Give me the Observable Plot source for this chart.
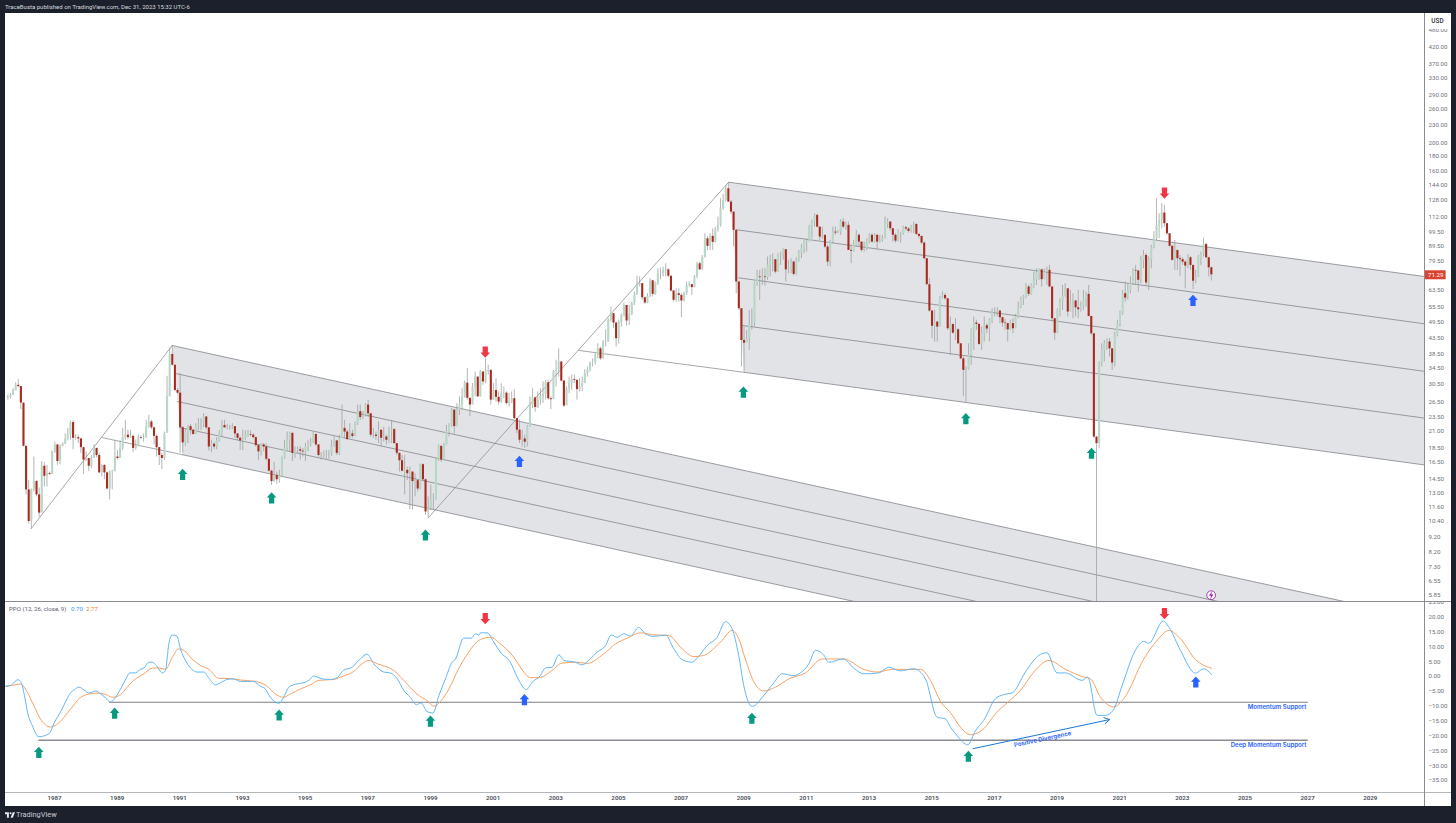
<!DOCTYPE html>
<html><head><meta charset="utf-8">
<script src="https://cdn.jsdelivr.net/npm/d3@7"></script>
<script src="https://cdn.jsdelivr.net/npm/@observablehq/plot@0.6"></script>
<style>
html,body{margin:0;padding:0;background:#1c202d;width:1456px;height:823px;overflow:hidden;font-family:Roboto,sans-serif}
#page{position:relative;width:1456px;height:823px}
.abs{position:absolute}
svg{display:block}
</style></head><body><div id="page"></div>
<script>
// Monthly candles, first one mid 1985
const firstMonth = 1985.51;
const firstOpen = 27.3;
const closes = [
27.5,27.8,28.8,30.1,29.8,26.2,18.7,13.3,10.4,13.3,
14.2,12.8,11.1,16.0,14.8,15.1,15.0,17.9,18.9,16.6,
18.7,19.0,19.9,20.5,22.5,19.9,20.0,19.8,18.5,16.8,
17.0,16.0,17.1,18.4,17.4,15.2,16.1,15.2,13.4,15.3,
15.4,17.2,17.0,18.4,20.0,20.4,20.0,20.2,18.4,18.7,
20.0,19.9,20.0,21.8,22.6,21.6,20.2,18.5,17.4,17.0,
20.7,27.5,38.3,35.2,28.9,28.3,21.6,19.2,20.9,21.8,
21.2,20.5,22.0,22.3,22.4,23.5,21.6,18.6,19.0,18.6,
19.5,20.6,22.0,21.6,21.6,21.6,21.8,20.6,19.9,19.5,
19.8,20.4,20.5,20.4,20.0,18.8,17.9,18.9,18.6,16.9,
15.4,14.2,14.9,14.4,14.8,17.1,18.4,19.6,20.7,17.7,
18.1,18.2,18.0,17.9,18.7,19.0,19.2,20.5,18.9,17.4,
17.4,17.7,17.7,17.7,18.6,19.5,17.7,19.9,21.5,20.9,
19.7,20.6,20.2,22.3,24.5,23.4,23.8,25.8,24.1,20.4,
20.4,20.2,21.2,19.9,20.1,19.6,21.2,21.3,19.1,17.7,
16.7,15.4,15.5,15.1,15.3,14.2,14.3,13.4,16.2,14.4,
11.2,11.5,12.3,12.3,16.8,18.7,16.8,18.9,20.9,22.0,
24.8,21.8,24.8,25.8,27.5,30.6,27.2,25.8,29.7,32.1,
27.5,33.4,30.9,33.4,33.8,26.8,28.9,27.4,26.4,28.2,
28.3,26.1,26.4,27.1,23.2,21.2,19.6,19.8,19.3,21.8,
25.8,27.3,25.3,26.8,27.5,28.0,30.7,27.1,26.9,33.4,
33.8,36.1,31.1,25.6,29.3,30.5,31.5,31.3,29.1,29.7,
30.5,33.0,33.8,35.8,35.9,38.0,40.0,37.0,42.2,42.2,
50.0,52.6,48.9,43.3,49.3,51.9,56.1,49.7,52.3,56.9,
61.2,65.6,66.5,59.6,57.2,60.2,68.0,61.2,66.5,71.9,
71.9,73.8,74.1,70.5,62.8,58.4,61.5,60.7,58.1,61.5,
65.6,66.0,64.5,70.1,77.7,74.1,81.4,94.4,89.0,96.2,
91.8,101.3,104.8,119.4,127.3,139.5,125.7,116.3,100.8,67.4,
54.7,42.7,41.8,43.3,48.7,48.7,66.5,70.1,69.7,70.1,
69.7,76.7,79.8,80.2,72.8,82.9,84.0,86.7,74.1,74.7,
78.7,71.5,79.8,84.4,88.1,92.0,92.7,103.4,107.6,113.3,
103.4,95.7,97.0,88.5,78.7,92.0,99.5,98.7,99.5,107.6,
103.4,104.8,86.2,85.6,89.7,97.0,92.0,86.2,87.3,92.0,
97.0,92.0,97.0,92.0,93.2,94.4,106.2,107.6,102.1,97.0,
92.7,98.2,98.2,102.9,101.9,100.0,103.4,105.6,97.7,96.2,
91.3,80.8,66.0,53.7,47.7,49.3,47.4,59.9,60.7,59.1,
46.8,48.4,45.2,46.4,41.6,37.0,33.8,34.0,38.0,46.4,
48.9,48.4,41.4,45.0,47.9,46.7,50.0,53.3,53.3,53.7,
51.0,48.9,48.7,46.4,48.7,46.8,51.3,55.1,59.1,59.9,
64.8,61.2,65.6,68.3,71.9,74.1,68.6,72.8,73.8,64.8,
50.6,45.2,54.0,57.6,60.2,63.9,53.3,57.6,58.1,55.1,
54.3,55.4,58.7,61.2,51.5,45.0,20.1,19.1,35.6,39.5,
41.6,42.2,40.0,35.8,44.4,48.4,52.6,61.5,59.4,63.1,
66.5,73.8,73.4,68.3,79.8,82.9,66.9,80.2,88.1,94.4,
104.8,109.0,115.4,106.2,98.2,89.0,79.8,86.2,80.8,80.2,
78.7,76.3,81.4,76.7,67.8,70.1,81.4,83.6,90.3,81.4,
75.3,71.29];
const highs = [
27.8,28.2,29.3,30.7,31.5,29.5,26.1,18.7,14.3,13.4,
17.2,14.3,13.5,16.6,16.5,16.1,15.3,18.0,19.3,18.9,
18.9,19.2,20.6,21.5,22.8,22.8,20.5,20.4,19.9,18.5,
17.9,16.9,17.4,18.9,17.7,17.7,16.2,16.2,15.3,15.4,
15.5,19.6,18.1,19.5,21.5,22.9,21.2,21.2,20.4,19.6,
20.4,20.3,20.6,22.9,23.8,22.9,21.7,20.4,18.5,17.7,
20.9,32.3,40.2,41.1,35.2,29.3,33.0,21.8,21.3,22.0,
22.2,21.3,22.3,23.2,23.2,24.1,23.6,21.5,19.6,19.3,
20.0,21.1,22.9,22.9,22.2,22.0,22.3,21.8,20.6,20.1,
21.2,21.1,21.2,21.1,20.6,20.1,19.0,19.1,19.1,19.0,
16.9,15.5,16.5,15.3,15.5,17.2,19.6,20.9,20.9,20.7,
18.6,18.6,18.6,18.4,19.1,19.6,19.9,20.9,20.6,18.9,
17.8,18.0,18.1,18.1,19.6,20.1,19.6,20.4,25.8,22.9,
21.2,22.3,21.2,22.6,25.8,25.8,24.5,26.1,26.8,24.1,
21.5,20.9,22.6,21.2,21.7,20.4,21.7,22.9,21.5,18.9,
17.7,17.4,17.4,15.9,15.9,15.1,15.1,14.2,16.3,16.3,
14.5,12.6,13.8,12.9,17.0,18.9,18.7,19.1,22.0,22.3,
25.1,24.9,26.1,27.5,29.3,31.1,34.3,27.2,30.5,33.4,
30.9,33.8,33.0,37.0,35.2,34.0,30.5,31.7,28.6,30.5,
29.7,28.6,28.2,28.6,29.1,23.2,22.9,21.2,20.4,22.0,
27.5,29.3,27.4,28.6,29.3,30.9,31.3,31.3,27.5,33.8,
36.6,40.0,36.1,31.3,29.7,32.1,32.6,32.6,31.3,31.7,
32.1,34.0,34.7,36.1,37.0,38.5,41.6,40.6,42.7,46.4,
50.6,55.4,52.6,49.3,50.0,52.6,57.2,55.4,56.1,57.6,
62.3,70.5,70.1,66.5,59.9,61.5,69.2,68.3,67.4,74.7,
75.3,75.7,77.7,74.7,70.5,63.1,63.9,63.9,61.5,62.3,
67.4,67.4,66.2,71.0,78.7,78.7,82.9,98.2,96.2,98.2,
102.1,103.4,111.8,129.0,133.4,143.1,145.8,127.3,116.3,101.3,
67.4,54.7,47.4,46.2,54.0,54.7,67.4,73.8,73.8,74.7,
74.7,81.9,82.9,84.0,80.2,84.0,85.1,87.3,86.7,79.8,
80.8,79.4,81.4,86.2,90.3,93.2,94.4,104.8,109.0,114.8,
114.2,103.4,103.4,97.0,89.7,93.2,103.4,103.4,100.8,109.5,
110.4,107.6,107.6,89.7,93.2,100.8,98.2,92.0,92.0,94.4,
98.2,98.2,98.2,97.7,97.0,97.0,111.8,110.4,107.6,102.1,
98.2,101.3,99.5,104.1,104.1,102.9,104.8,107.6,106.2,98.2,
96.2,92.0,80.8,69.2,54.0,54.0,49.3,60.2,62.3,61.5,
59.1,51.3,48.4,50.6,46.8,41.6,37.5,34.7,41.6,46.8,
51.3,50.0,48.7,47.4,51.3,48.7,50.6,54.7,55.1,55.1,
54.0,51.3,50.3,48.9,50.0,50.6,52.3,57.6,59.9,60.7,
66.5,65.6,66.5,72.8,74.7,74.7,74.1,74.7,75.7,76.7,
64.8,50.6,54.7,59.1,65.6,66.5,63.9,63.1,61.5,58.4,
63.1,57.6,63.1,62.3,65.6,51.3,44.4,20.1,36.1,41.6,
42.7,43.3,43.3,40.0,45.6,50.0,53.7,63.1,67.4,66.5,
70.1,74.7,76.7,73.8,82.3,86.2,84.0,81.9,89.7,99.8,
129.0,114.8,124.1,122.5,106.2,98.2,89.7,93.2,86.2,82.9,
81.4,79.4,83.6,82.3,76.7,73.8,82.9,85.1,94.9,91.3,
81.4,75.7];
const lows = [
26.8,27.1,27.8,28.9,29.5,24.9,18.6,12.8,10.2,9.8,
13.1,12.6,10.7,11.2,13.6,13.6,14.9,15.0,17.7,16.1,
16.2,18.6,19.0,19.5,19.6,18.2,19.6,19.1,17.7,15.0,
16.6,15.4,15.7,17.0,17.1,15.1,14.7,14.4,13.3,12.3,
13.3,15.3,16.8,17.0,18.1,19.6,19.7,19.9,17.8,18.1,
18.6,19.7,19.3,19.9,21.5,21.3,18.9,17.2,16.1,15.6,
16.7,20.7,28.2,34.9,28.6,28.1,17.7,17.7,18.7,19.1,
20.4,20.4,20.6,21.1,21.2,21.6,21.3,18.0,17.8,18.2,
18.2,19.3,20.1,21.5,21.3,21.2,21.3,19.9,19.6,18.1,
18.1,19.6,20.1,20.1,19.9,18.6,16.7,17.3,17.9,16.7,
15.3,13.8,14.1,13.9,14.0,14.7,16.9,18.1,17.9,16.6,
17.0,17.7,16.8,17.2,16.6,17.9,18.6,19.1,18.7,17.2,
16.8,17.0,16.9,16.9,17.3,18.6,17.4,17.4,19.9,19.9,
19.6,19.7,19.9,20.1,22.0,22.9,23.0,23.5,23.4,20.1,
19.9,19.6,19.1,18.6,19.3,18.9,19.1,19.1,19.0,17.4,
15.3,15.3,12.8,14.3,11.4,11.4,12.6,13.1,13.3,14.2,
10.9,10.7,11.3,11.4,12.3,16.6,16.5,16.7,18.9,20.1,
21.7,20.6,21.8,23.8,24.8,27.2,26.8,23.6,26.1,27.5,
27.4,27.5,30.1,30.5,32.6,25.8,26.8,26.4,25.8,26.1,
27.1,25.8,25.4,26.1,23.0,20.6,19.1,18.6,18.4,18.6,
21.7,25.1,24.4,25.1,25.8,26.1,26.8,26.8,24.9,27.5,
29.7,32.1,30.9,25.3,25.8,28.2,28.9,30.5,26.8,28.6,
28.6,30.5,32.1,33.4,34.7,35.2,37.0,36.6,37.0,40.6,
42.2,49.3,46.8,40.6,41.6,47.4,51.3,47.7,48.0,51.9,
56.1,60.7,64.8,58.4,56.6,56.9,59.6,59.9,60.7,65.6,
68.6,70.1,70.1,69.7,62.3,57.6,57.6,57.6,51.0,57.6,
60.7,64.8,60.7,64.5,69.2,73.8,73.8,81.9,86.2,86.2,
86.2,91.3,99.5,103.4,117.8,125.7,125.4,114.2,88.5,61.5,
54.0,34.7,33.4,42.7,39.5,46.2,47.4,65.2,58.4,65.6,
65.2,68.3,70.1,72.8,71.9,72.8,76.7,79.8,67.4,71.9,
71.9,70.5,71.0,78.7,80.8,84.0,85.1,92.0,94.4,103.4,
102.9,93.2,94.4,87.3,76.1,75.7,90.8,97.0,98.2,97.0,
102.1,100.8,86.2,77.7,85.1,88.5,88.5,85.1,85.1,86.2,
90.8,91.3,91.3,86.7,91.3,92.0,94.4,102.1,100.2,92.0,
91.3,92.0,91.3,97.0,100.2,98.7,98.7,98.2,97.0,94.4,
90.3,80.2,65.6,53.3,43.3,42.2,42.2,47.4,59.1,58.4,
46.2,38.0,44.8,42.7,41.4,36.8,27.5,26.3,33.8,35.2,
39.5,46.2,41.1,39.5,42.2,45.0,42.2,48.7,51.3,51.3,
48.7,47.4,46.2,42.2,46.2,45.0,46.8,50.6,54.7,56.1,
59.1,60.2,60.7,63.9,65.6,68.3,64.8,69.2,65.6,64.8,
50.0,42.7,45.0,51.3,54.0,59.9,51.3,53.3,50.6,51.3,
50.6,53.3,54.0,55.4,51.3,44.4,19.8,5.0,18.4,34.7,
36.1,39.5,37.5,33.8,34.7,43.9,47.4,51.9,57.6,58.4,
61.5,65.6,65.6,62.3,66.5,74.7,65.6,63.1,74.7,87.3,
93.2,94.4,102.1,103.4,97.0,88.5,79.4,73.8,73.8,70.5,
76.7,63.9,74.7,73.8,63.5,66.5,69.7,76.7,81.9,80.8,
70.1,67.9];

// Right price axis
const priceTicks = [480,420,370,330,290,260,230,200,180,160,144,128,112,99.5,89.5,79.5,63.5,55.5,49.5,43.5,38.5,34.5,30.5,26.5,23.5,21,18.5,16.5,14.5,13,11.6,10.4,9.2,8.2,7.3,6.55,5.85];
const lastPrice = 71.29;

// Pitchfork one: left ends and far ends of the five parallel lines
const forkOneTimes = [1990.757,1990.862,1990.93,1991.01,1991.095];
const forkOnePrices = [41.05,33.0,26.52,21.65,17.5];
const forkOneFarPrices = [4.08,3.29,2.66,2.18,1.77];
const forkOnePivot = [1986.256,9.84];
const forkOneBase = [1988.53,20.0];
// Pitchfork two
const forkTwoTimes = [2008.52,2008.77,2008.84,2008.96,2009.02];
const forkTwoPrices = [146.8,101.3,69.6,48.0,33.3];
const forkTwoFarPrices = [63.1,43.6,30.1,20.9,14.5];
const forkTwoPivot = [1998.93,10.7];
const forkTwoBase = [2003.735,39.5];
const farTime = 2034;

// Signal arrows on the price pane
const priceUpGreenT = [1991.09,1993.93,1998.84,2008.99,2016.09,2020.10];
const priceUpGreenP = [15.0,12.5,9.35,28.5,23.2,17.7];
const priceUpBlueT = [2001.84,2023.34];
const priceUpBlueP = [16.6,58.3];
const priceDownRedT = [2000.75,2022.43];
const priceDownRedP = [39.0,135];

// PPO line
const ppoT = [1985.44,1985.60,1985.70,1985.83,1985.94,1986.04,1986.15,1986.29,1986.50,1986.66,1986.84,1987.00,1987.19,1987.35,1987.49,1987.64,1987.78,1987.94,1988.10,1988.31,1988.47,1988.63,1988.79,1988.95,1989.11,1989.30,1989.40,1989.58,1989.74,1989.85,1990.01,1990.12,1990.25,1990.44,1990.54,1990.65,1990.76,1990.91,1991.02,1991.18,1991.39,1991.55,1991.77,1991.93,1992.14,1992.30,1992.51,1992.72,1992.94,1993.36,1993.57,1993.73,1993.89,1994.17,1994.30,1994.48,1994.69,1994.96,1995.12,1995.28,1995.54,1995.81,1996.02,1996.23,1996.50,1996.71,1996.98,1997.19,1997.51,1997.72,1997.94,1998.15,1998.36,1998.55,1998.70,1998.89,1999.08,1999.27,1999.48,1999.69,1999.80,2000.06,2000.30,2000.44,2000.54,2000.60,2000.81,2001.02,2001.23,2001.55,2001.77,2002.06,2002.25,2002.51,2002.67,2002.88,2003.10,2003.26,2003.63,2003.84,2004.05,2004.32,2004.59,2004.77,2004.96,2005.17,2005.38,2005.65,2005.86,2006.13,2006.50,2006.77,2007.03,2007.35,2007.56,2007.83,2008.15,2008.42,2008.63,2008.84,2009.00,2009.27,2009.64,2009.96,2010.22,2010.60,2010.81,2011.08,2011.29,2011.55,2011.71,2012.19,2012.51,2012.83,2013.31,2013.63,2014.00,2014.43,2014.80,2015.17,2015.44,2015.60,2015.81,2016.15,2016.40,2016.66,2017.03,2017.30,2017.57,2017.99,2018.42,2018.68,2019.00,2019.27,2019.80,2019.98,2020.28,2020.55,2020.79,2021.08,2021.50,2021.77,2021.93,2022.39,2022.57,2022.94,2023.42,2023.68,2023.93];
const ppoV = [-3.3,-3.0,-2.1,-1.1,-2.1,-6.4,-12.6,-16.5,-20.3,-20.0,-19.1,-15.4,-12.0,-8.6,-5.8,-4.4,-3.6,-4.5,-5.6,-4.9,-5.8,-7.2,-8.6,-7.0,-4.2,-0.4,1.2,1.2,2.4,2.8,4.8,4.8,3.7,1.2,2.0,11.0,14.0,13.6,9.3,5.4,2.4,1.5,1.5,-0.6,-2.8,-2.1,-1.0,-0.8,-1.7,-1.7,-3.3,-4.2,-7.0,-9.0,-7.3,-3.6,-2.6,-2.1,-1.3,0.2,-0.8,-1.0,-0.4,2.1,3.1,5.4,7.5,4.3,1.5,1.2,-0.8,-4.7,-7.0,-9.5,-8.9,-11.8,-12.3,-6.4,-0.8,4.8,5.9,12.9,12.9,14.4,14.0,14.7,14.7,11.6,8.2,4.8,-0.2,-4.4,-1.9,0.3,2.9,3.1,7.3,5.4,4.8,3.9,5.4,8.2,10.4,14.0,13.2,14.4,13.6,16.5,14.4,13.5,14.0,9.3,5.7,4.8,6.8,10.4,13.2,18.5,16.0,7.1,-3.0,-10.1,-6.4,-2.1,0.9,0.3,1.2,4.3,8.8,7.3,4.8,5.9,2.8,0.9,1.2,3.1,1.9,2.6,-0.8,-13.7,-14.3,-17.1,-19.9,-23.0,-18.2,-14.8,-7.5,-6.1,-5.5,1.5,7.1,8.0,1.2,1.2,-1.3,-0.2,-13.1,-13.1,-11.4,-3.0,8.8,11.8,11.2,18.7,16.6,8.8,1.1,2.6,0.70];
// PPO signal line
const signalT = [1985.44,1985.65,1985.91,1986.13,1986.34,1986.55,1986.87,1987.14,1987.35,1987.56,1987.78,1987.99,1988.36,1988.63,1988.84,1989.11,1989.32,1989.53,1989.85,1990.12,1990.33,1990.54,1990.76,1990.97,1991.13,1991.39,1991.66,1991.93,1992.24,1992.62,1992.94,1993.36,1993.79,1994.05,1994.30,1994.53,1994.85,1995.17,1995.44,1995.91,1996.13,1996.55,1996.82,1997.03,1997.30,1997.83,1998.15,1998.57,1998.89,1999.11,1999.32,1999.59,1999.90,2000.22,2000.60,2000.92,2001.23,2001.66,2001.98,2002.19,2002.46,2002.88,2003.20,2003.68,2004.00,2004.53,2004.91,2005.28,2005.70,2006.13,2006.61,2006.98,2007.41,2007.72,2008.26,2008.63,2008.84,2009.05,2009.32,2009.64,2010.01,2010.44,2010.97,2011.50,2012.19,2012.83,2013.26,2013.74,2014.64,2014.96,2015.28,2015.60,2015.92,2016.24,2016.66,2017.03,2017.46,2017.83,2018.26,2018.74,2019.27,2019.80,2020.07,2020.39,2020.81,2021.13,2021.77,2022.19,2022.57,2022.94,2023.42,2023.93];
const signalV = [-3.3,-3.0,-2.5,-5.3,-9.8,-14.3,-17.0,-15.6,-13.1,-10.4,-7.5,-6.2,-5.6,-6.0,-7.0,-6.1,-3.6,-1.3,0.9,2.8,2.9,2.4,6.5,9.3,8.8,5.9,3.7,2.4,-0.6,-0.7,-1.2,-1.6,-3.3,-5.9,-7.0,-5.9,-4.2,-2.8,-1.3,-1.0,-0.2,1.7,4.3,5.4,4.3,2.0,-1.3,-5.9,-8.1,-10.0,-8.4,-4.2,2.6,8.2,12.5,13.2,11.0,6.5,1.5,-0.4,-0.4,2.0,4.5,4.8,4.4,7.6,11.0,12.9,14.7,14.0,13.8,9.9,6.7,7.1,11.6,15.5,12.7,5.9,-1.7,-4.9,-3.6,-0.8,1.2,5.9,5.9,2.4,1.5,2.4,2.4,-1.3,-8.4,-12.2,-17.1,-19.6,-17.6,-12.6,-8.4,-4.7,1.5,5.4,2.4,0.0,-0.8,-7.0,-10.2,-7.5,5.9,12.1,15.5,12.7,5.7,2.77];

const ppoUpGreenT = [1986.50,1988.92,1994.17,1999.0,2009.26,2016.17];
const ppoUpGreenV = [-25.6,-12.4,-13.0,-15.05,-14.1,-26.9];
const ppoUpBlueT = [2002.0,2023.43];
const ppoUpBlueV = [-7.85,-1.9];
const ppoDownRedT = [2000.75,2022.43];
const ppoDownRedV = [19.5,21.2];
const ppoTicks = [25,20,15,10,5,0,-5,-10,-15,-20,-25,-30,-35];
const yearTicks = d3.range(1987,2030,2);

const momentum = {value:-8.65, from:1988.755, to:2027.02, label:"Momentum Support", labelValue:-10.3};
const deep = {value:-21.5, from:1986.5, to:2027.02, label:"Deep Momentum Support", labelValue:-23.2};
const labelTime = 2026.96;

const xDomain = [1985.436,2030.73];
const UP="#b8d7c7", DOWN="#a92a1f", WICK="#9c9c9c", FORK="#8f9197", SHADE="#e1e3e6";
const GREEN="#089981", BLUE="#2962ff", RED="#f23645";

const upArrow = {draw(c,size){const s=Math.sqrt(size)/8.9;
  c.moveTo(0,-5.2*s);c.lineTo(4.4*s,-0.4*s);c.lineTo(2.4*s,-0.4*s);c.lineTo(2.4*s,5*s);c.lineTo(-2.4*s,5*s);c.lineTo(-2.4*s,-0.4*s);c.lineTo(-4.4*s,-0.4*s);c.closePath();}};
const downArrow = {draw(c,size){const s=Math.sqrt(size)/8.9;
  c.moveTo(0,5.2*s);c.lineTo(4.4*s,0.4*s);c.lineTo(2.4*s,0.4*s);c.lineTo(2.4*s,-5*s);c.lineTo(-2.4*s,-5*s);c.lineTo(-2.4*s,0.4*s);c.lineTo(-4.4*s,0.4*s);c.closePath();}};
const bolt = {draw(c,size){const s=Math.sqrt(size)/5;
  c.moveTo(0.6*s,-2.6*s);c.lineTo(-1.5*s,0.4*s);c.lineTo(-0.1*s,0.4*s);c.lineTo(-0.6*s,2.6*s);c.lineTo(1.5*s,-0.5*s);c.lineTo(0.1*s,-0.5*s);c.closePath();}};
const arrows=(ts,vs,sym,col)=>Plot.dot(ts.map((t,i)=>({t,v:vs[i]})),{x:"t",y:"v",symbol:sym,r:5.5,fill:col,stroke:"none"});

const forkMarks=(times,prices,far,pivot,base)=>{
  const apex=[times[0],prices[0]], bot=[times[4],prices[4]];
  const poly=[apex,[farTime,far[0]],[farTime,far[4]],bot];
  const m=[Plot.line(poly,{x:d=>d[0],y:d=>d[1],fill:SHADE,stroke:"none",clip:true})];
  times.forEach((t,i)=>m.push(Plot.line([[t,prices[i]],[farTime,far[i]]],{x:d=>d[0],y:d=>d[1],stroke:FORK,strokeWidth:0.9,clip:true})));
  m.push(Plot.line([pivot,apex],{x:d=>d[0],y:d=>d[1],stroke:FORK,strokeWidth:0.8,clip:true}));
  m.push(Plot.line([base,bot],{x:d=>d[0],y:d=>d[1],stroke:FORK,strokeWidth:0.8,clip:true}));
  return m;
};

const idx = d3.range(closes.length);
const tOf = i=>firstMonth+i/12;
const openOf = i=>i===0?firstOpen:closes[i-1];

const axisFont = {fontFamily:"Roboto, sans-serif",fontSize:"6.2px",background:"transparent",overflow:"hidden"};

const pricePlot = Plot.plot({
  width:1456,height:588,marginLeft:5,marginRight:32,marginTop:0,marginBottom:0,
  style:axisFont,
  x:{domain:xDomain,axis:null},
  y:{type:"log",domain:[5.57,547.6]},
  marks:[
    ...forkMarks(forkOneTimes,forkOnePrices,forkOneFarPrices,forkOnePivot,forkOneBase),
    ...forkMarks(forkTwoTimes,forkTwoPrices,forkTwoFarPrices,forkTwoPivot,forkTwoBase),
    Plot.ruleX(idx,{x:tOf,y1:i=>lows[i],y2:i=>highs[i],stroke:WICK,strokeWidth:0.75,clip:true}),
    Plot.ruleX(idx,{x:tOf,y1:openOf,y2:i=>closes[i],stroke:i=>closes[i]<openOf(i)?DOWN:UP,strokeWidth:2.1,clip:true}),
    arrows(priceUpGreenT,priceUpGreenP,upArrow,GREEN),
    arrows(priceUpBlueT,priceUpBlueP,upArrow,BLUE),
    arrows(priceDownRedT,priceDownRedP,downArrow,RED),
    Plot.dot([{t:2023.92,p:5.85}],{x:"t",y:"p",r:4.4,stroke:"#9c27b0",strokeWidth:0.9,fill:"white"}),
    Plot.dot([{t:2023.92,p:5.85}],{x:"t",y:"p",r:4.4,symbol:bolt,fill:"#9c27b0",stroke:"none"}),
    Plot.axisY(priceTicks,{anchor:"right",tickSize:0,tickPadding:4,label:null,tickFormat:d=>d.toFixed(2),color:"#6f727c"}),
    Plot.ruleY([lastPrice],{x1:2030.76,x2:2031.42,stroke:"#d9432f",strokeWidth:9}),
    Plot.text([lastPrice],{x:2031.09,y:d=>d,text:d=>d.toFixed(2),fill:"white",fontSize:6.2})
  ]
});

const ppoPlot = Plot.plot({
  width:1456,height:205,marginLeft:5,marginRight:32,marginTop:0,marginBottom:14,
  style:axisFont,
  x:{domain:xDomain},
  y:{domain:[-39.06,25.25]},
  marks:[
    Plot.ruleY([momentum],{y:"value",x1:"from",x2:"to",stroke:"#7c7e85",strokeWidth:1.1}),
    Plot.ruleY([deep],{y:"value",x1:"from",x2:"to",stroke:"#8a8c92",strokeWidth:1.5}),
    Plot.line(signalT.map((t,i)=>({t,v:signalV[i]})),{x:"t",y:"v",stroke:"#f9a263",strokeWidth:1,curve:"monotone-x"}),
    Plot.line(ppoT.map((t,i)=>({t,v:ppoV[i]})),{x:"t",y:"v",stroke:"#63b7f5",strokeWidth:1,curve:"monotone-x"}),
    arrows(ppoUpGreenT,ppoUpGreenV,upArrow,GREEN),
    arrows(ppoUpBlueT,ppoUpBlueV,upArrow,BLUE),
    arrows(ppoDownRedT,ppoDownRedV,downArrow,RED),
    Plot.text([momentum,deep],{x:()=>labelTime,y:"labelValue",text:"label",textAnchor:"end",fill:BLUE,fontFamily:"Inter, sans-serif",fontSize:6.1,fontWeight:600}),
    Plot.arrow([{x1:2016.32,y1:-24.3,x2:2020.68,y2:-14.5}],{x1:"x1",y1:"y1",x2:"x2",y2:"y2",bend:0,stroke:"#1976d2",strokeWidth:1,headLength:9}),
    Plot.text([{t:2018.54,v:-21.1}],{x:"t",y:"v",text:()=>"Positive Divergence",rotate:-12,fill:BLUE,fontFamily:"Inter, sans-serif",fontSize:6.1,fontWeight:600}),
    Plot.axisY(ppoTicks,{anchor:"right",tickSize:0,tickPadding:4,label:null,tickFormat:d=>(d<0?"\u2212":"")+Math.abs(d).toFixed(2),color:"#6f727c"}),
    Plot.axisX(yearTicks,{anchor:"bottom",tickSize:0,tickPadding:3,label:null,tickFormat:d=>String(d),color:"#4a4d57",fontWeight:600})
  ]
});

const page=document.getElementById("page");
const box=(l,t,w,h,bg)=>{const d=document.createElement("div");d.className="abs";d.style.cssText=`left:${l}px;top:${t}px;width:${w}px;height:${h}px;background:${bg}`;page.appendChild(d);return d;};
const label=(l,t,text,css)=>{const d=document.createElement("div");d.className="abs";d.textContent=text;d.style.cssText=`left:${l}px;top:${t}px;white-space:nowrap;${css}`;page.appendChild(d);return d;};

box(5,13,1446,793,"#ffffff");
const p1=document.createElement("div");p1.className="abs";p1.style.cssText="left:0;top:13px";p1.appendChild(pricePlot);page.appendChild(p1);
const p2=document.createElement("div");p2.className="abs";p2.style.cssText="left:0;top:601px";p2.appendChild(ppoPlot);page.appendChild(p2);
// Pane rules
box(5,601,1446,1,"#8a8c92");
box(5,792,1446,1,"#b4b6bb");
box(1424,13,1,793,"#8a8c92");
// USD chip
const usd=label(1426,15,"USD","width:23px;height:13.5px;line-height:13px;text-align:center;background:#fff;border-radius:2px;font-size:6.4px;font-weight:600;color:#3a3d47");
// Header, footer
label(5,3,"TraceBusta published on TradingView.com, Dec 31, 2023 15:32 UTC-6","font-size:6px;line-height:8px;color:#d6d8df");
label(16,810,"TradingView","font-size:7.4px;line-height:9px;color:#c9ccd4");
const logo=document.createElementNS("http://www.w3.org/2000/svg","svg");
logo.setAttribute("width","10");logo.setAttribute("height","6");logo.setAttribute("viewBox","0 0 36 20");
logo.style.cssText="position:absolute;left:5px;top:812px";
logo.innerHTML='<path fill="#e6e8ee" d="M14 20H7V7H0V0h14zM28 20h-8L28 0h8z"/><circle fill="#e6e8ee" cx="20" cy="4" r="3.6"/>';
page.appendChild(logo);
// PPO legend
label(9,605,"PPO (12, 26, close, 9)","font-size:6.1px;line-height:8px;color:#5d606b");
label(71,605,"0.70","font-size:6.1px;line-height:8px;color:#2f9cf2");
label(86,605,"2.77","font-size:6.1px;line-height:8px;color:#f57c1f");
</script></body></html>
